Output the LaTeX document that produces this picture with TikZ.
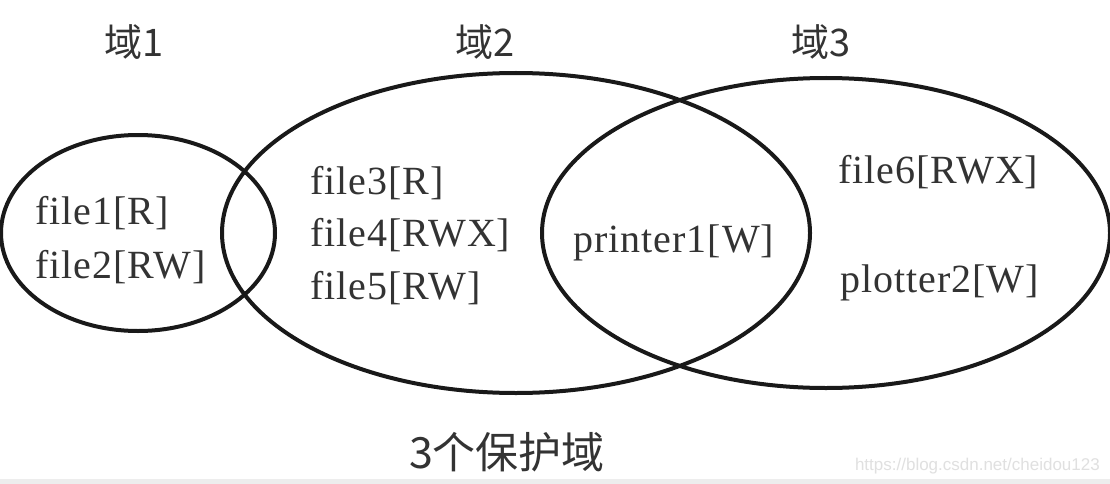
\documentclass[tikz,border=0pt]{standalone}
\usepackage{fontspec}
\setmainfont{Liberation Serif}[LetterSpace=2.5]
\newfontfamily\cjk{Noto Sans CJK SC}
\newfontfamily\wmfont{Liberation Sans}
\begin{document}
\begin{tikzpicture}[x=1pt,y=-1pt,
  ring/.style={draw=black!90, line width=4pt},
  lbl/.style={anchor=west, inner sep=0pt, text=black!80, font=\fontsize{40}{48}\selectfont},
  title/.style={anchor=center, inner sep=0pt, text=black!80, font=\fontsize{38}{44}\selectfont\cjk}]
\useasboundingbox (0,0) rectangle (1110,484);
\fill[white] (0,0) rectangle (1110,484);
\fill[black!7] (0,479) rectangle (1110,484);
% domains
\draw[ring] (138,233) ellipse [x radius=137, y radius=98];
\draw[ring] (516,233) ellipse [x radius=294, y radius=160];
\draw[ring] (826,233) ellipse [x radius=284, y radius=155];
% titles
\node[title] (d1) at (134,42) {域1};
\node[title] (d2) at (485,42) {域2};
\node[title] (d3) at (821,42) {域3};
\node[title, font=\fontsize{43}{50}\selectfont\cjk] (cap) at (507,452) {3个保护域};
% domain 1
\node[lbl] (f1) at (35,213) {file1[R]};
\node[lbl] (f2) at (35,267) {file2[RW]};
% domain 2
\node[lbl] (f3) at (310,183) {file3[R]};
\node[lbl] (f4) at (310,235) {file4[RWX]};
\node[lbl] (f5) at (310,288) {file5[RW]};
% shared
\node[lbl] (p1) at (573,243) {printer1[W]};
% domain 3
\node[lbl] (f6) at (838,172) {file6[RWX]};
\node[lbl] (p2) at (840,283) {plotter2[W]};
% watermark
\node[anchor=east, inner sep=0pt, text=black!12, font=\fontsize{17}{20}\selectfont\wmfont] (wm) at (1100,466) {https://blog.csdn.net/cheidou123};
\end{tikzpicture}
\end{document}
